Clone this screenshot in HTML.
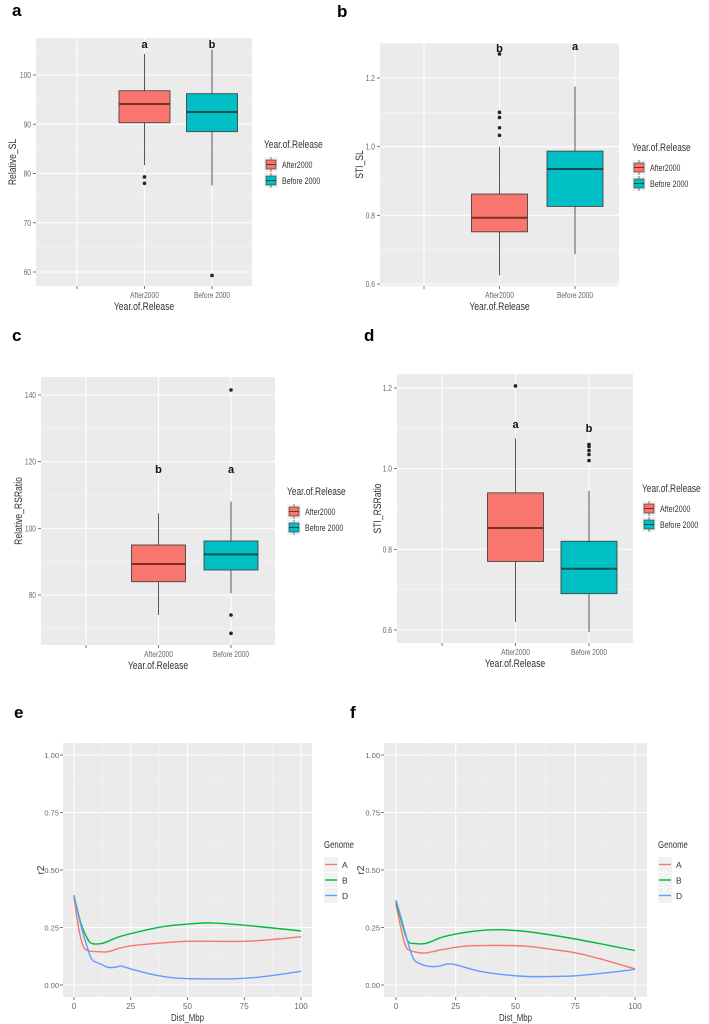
<!DOCTYPE html>
<html><head><meta charset="utf-8"><style>
html,body{margin:0;padding:0;background:#fff;}
svg{display:block;font-family:"Liberation Sans",sans-serif;}
</style></head><body>
<svg id="fig" width="709" height="1024" viewBox="0 0 709 1024" xmlns="http://www.w3.org/2000/svg"></svg>
<script>
// ---- Data ----
const categories = ["", "After2000", "Before 2000"];
const legendLabels = ["After2000", "Before 2000"];
// box stats: [whiskerLow, q1, median, q3, whiskerHigh]
const aAfter = [81.7, 90.3, 94.1, 96.8, 104.3];
const aBefore = [77.6, 88.5, 92.5, 96.2, 105.2];
const aOutAfter = [79.3, 78.0];
const aOutBefore = [59.3];
const aTicks = [60, 70, 80, 90, 100];
const aTickLabels = ["60", "70", "80", "90", "100"];
const aLetters = ["a", "b"];
const bAfter = [0.625, 0.752, 0.793, 0.862, 1.0];
const bBefore = [0.687, 0.826, 0.935, 0.987, 1.175];
const bOutAfter = [1.033, 1.055, 1.085, 1.1, 1.27];
const bOutBefore = [];
const bTicks = [0.6, 0.8, 1.0, 1.2];
const bTickLabels = ["0.6", "0.8", "1.0", "1.2"];
const bLetters = ["b", "a"];
const cAfter = [74, 84, 89.3, 95, 104.5];
const cBefore = [80.5, 87.5, 92.2, 96.2, 108];
const cOutAfter = [];
const cOutBefore = [141.5, 74, 68.5];
const cTicks = [80, 100, 120, 140];
const cTickLabels = ["80", "100", "120", "140"];
const cLetters = ["b", "a"];
const dAfter = [0.62, 0.77, 0.853, 0.94, 1.075];
const dBefore = [0.595, 0.69, 0.752, 0.82, 0.945];
const dOutAfter = [1.205];
const dOutBefore = [1.02, 1.035, 1.045, 1.055, 1.06];
const dTicks = [0.6, 0.8, 1.0, 1.2];
const dTickLabels = ["0.6", "0.8", "1.0", "1.2"];
const dLetters = ["a", "b"];

const genomes = ["A", "B", "D"];
const eA_x = [0,2,4,6,10,15,20,25,35,50,75,90,100];
const eA_y = [.38,.25,.17,.15,.145,.145,.16,.17,.18,.19,.19,.2,.21];
const eB_x = [0,3,6,8,12,15,20,30,40,50,60,75,100];
const eB_y = [.39,.27,.2,.18,.18,.19,.21,.235,.255,.265,.27,.26,.235];
const eD_x = [0,3,6,8,12,15,18,21,25,35,45,55,70,80,90,100];
const eD_y = [.39,.26,.16,.11,.09,.077,.077,.082,.07,.045,.03,.027,.027,.033,.045,.06];
const fA_x = [0,2,4,6,10,13,20,30,45,55,65,75,85,100];
const fA_y = [.35,.25,.17,.15,.14,.14,.155,.17,.172,.168,.155,.14,.115,.07];
const fB_x = [0,3,5,8,12,15,20,30,40,50,60,75,90,100];
const fB_y = [.36,.25,.19,.18,.18,.19,.21,.23,.24,.237,.225,.2,.17,.15];
const fD_x = [0,3,6,8,12,15,18,22,26,35,45,55,65,75,90,100];
const fD_y = [.37,.26,.15,.105,.085,.08,.082,.092,.085,.06,.045,.037,.037,.04,.055,.068];
const lineXTicks = [0, 25, 50, 75, 100];
const lineYTicks = [0, 0.25, 0.5, 0.75, 1.0];

// ---- helpers ----
const NS = "http://www.w3.org/2000/svg";
const svg = document.getElementById("fig");
function mk(tag, attrs, parent, text){
  const e = document.createElementNS(NS, tag);
  for (const k in attrs) e.setAttribute(k, attrs[k]);
  if (text !== undefined) e.textContent = text;
  (parent || svg).appendChild(e);
  return e;
}
function condense(el, f){
  const w = el.getComputedTextLength();
  if (w > 0){ el.setAttribute("textLength", (w*f).toFixed(1)); el.setAttribute("lengthAdjust", "spacingAndGlyphs"); }
}
function lin(d0, d1, r0, r1){ return v => r0 + (v - d0) * (r1 - r0) / (d1 - d0); }
const fillCols = ["#f8766d", "#00bfc4"];
const medCols = ["#7a2e29", "#0b4f51"];
const lineCols = {A: "#f8766d", B: "#00ba38", D: "#619cff"};
const CF = 0.78;

function panelLabel(t, x, y, name){
  const e = mk("text", {x:x, y:y, "font-size":17, "font-weight":"bold", fill:"#000"}, svg, t);
  
  
}

function boxPanel(cfg){
  const g = mk("g", {});
  
  
  const y = lin(cfg.d0, cfg.d1, cfg.r0, cfg.r1);
  const bg = mk("rect", {x:cfg.L, y:cfg.T, width:cfg.R-cfg.L, height:cfg.B-cfg.T, fill:"#ebebeb"}, g);
  
  
  const step = cfg.ticks[1] - cfg.ticks[0];
  for (let i = -1; i < cfg.ticks.length; i++){
    const v = cfg.ticks[0] + step*(i+0.5);
    const py = y(v);
    if (py > cfg.T && py < cfg.B) mk("line", {x1:cfg.L, x2:cfg.R, y1:py, y2:py, stroke:"#f7f7f7", "stroke-width":0.6}, g);
  }
  cfg.ticks.forEach((v, i) => {
    const py = y(v);
    const gl = mk("line", {x1:cfg.L, x2:cfg.R, y1:py, y2:py, stroke:"#fff", "stroke-width":1.1}, g);
    
    
    mk("line", {x1:cfg.L-3, x2:cfg.L, y1:py, y2:py, stroke:"#555", "stroke-width":0.8}, g);
    const t = mk("text", {x:cfg.L-5, y:py+3, "font-size":8.5, fill:"#666", "text-anchor":"end"}, g, cfg.tickLabels[i]);
    
    
    condense(t, CF);
  });
  const cx = i => cfg.c0 + i*cfg.cs;
  categories.forEach((c, i) => {
    const px = cx(i);
    mk("line", {x1:px, x2:px, y1:cfg.T, y2:cfg.B, stroke:"#fff", "stroke-width":1.1}, g);
    mk("line", {x1:px, x2:px, y1:cfg.B, y2:cfg.B+3, stroke:"#555", "stroke-width":0.8}, g);
    const t = mk("text", {x:px, y:cfg.B+12, "font-size":8.5, fill:"#666", "text-anchor":"middle"}, g, c);
    
    
    if (c) condense(t, CF);
  });
  const boxes = [cfg.after, cfg.before], outs = [cfg.outAfter, cfg.outBefore];
  boxes.forEach((s, k) => {
    const px = cx(k+1), w = cfg.bw;
    const bg2 = mk("g", {}, g);
    
    
    mk("line", {x1:px, x2:px, y1:y(s[0]), y2:y(s[1]), stroke:"#444", "stroke-width":0.9}, bg2);
    mk("line", {x1:px, x2:px, y1:y(s[3]), y2:y(s[4]), stroke:"#444", "stroke-width":0.9}, bg2);
    mk("rect", {x:px-w/2, y:y(s[3]), width:w, height:y(s[1])-y(s[3]), fill:fillCols[k], stroke:"#444", "stroke-width":0.9}, bg2);
    mk("line", {x1:px-w/2, x2:px+w/2, y1:y(s[2]), y2:y(s[2]), stroke:medCols[k], "stroke-width":2}, bg2);
    outs[k].forEach(v => {
      const o = mk("circle", {cx:px, cy:y(v), r:1.8, fill:"#222"}, bg2);
      
      
    });
    const lt = mk("text", {x:px, y:cfg.letterY[k], "font-size":11, "font-weight":"bold", fill:"#111", "text-anchor":"middle"}, g, cfg.letters[k]);
    
    
  });
  const xt = mk("text", {x:(cfg.L+cfg.R)/2, y:cfg.B+24, "font-size":11, fill:"#333", "text-anchor":"middle"}, g, "Year.of.Release");
  
  
  condense(xt, CF);
  const yt = mk("text", {x:0, y:0, "font-size":11, fill:"#333", "text-anchor":"middle", transform:`translate(${cfg.ytx},${(cfg.T+cfg.B)/2}) rotate(-90)`}, g, cfg.ytitle);
  
  
  condense(yt, CF);
  const lg = mk("g", {}, g);
  
  
  const ltitle = mk("text", {x:cfg.lx, y:cfg.ly, "font-size":11, fill:"#333"}, lg, "Year.of.Release");
  condense(ltitle, 0.76);
  legendLabels.forEach((l, k) => {
    const ky = cfg.ly + 9 + k*16;
    const e = mk("g", {}, lg);
    
    
    mk("rect", {x:cfg.lx, y:ky, width:14, height:15, fill:"#f2f2f2"}, e);
    mk("line", {x1:cfg.lx+7, x2:cfg.lx+7, y1:ky, y2:ky+15, stroke:"#444", "stroke-width":0.7}, e);
    mk("rect", {x:cfg.lx+2, y:ky+3, width:10, height:9, fill:fillCols[k], stroke:"#444", "stroke-width":0.7}, e);
    mk("line", {x1:cfg.lx+2, x2:cfg.lx+12, y1:ky+7.5, y2:ky+7.5, stroke:medCols[k], "stroke-width":1}, e);
    const tt = mk("text", {x:cfg.lx+18, y:ky+11, "font-size":9, fill:"#333"}, e, l);
    condense(tt, CF);
  });
}

function smoothPath(pts){
  let d = `M${pts[0][0]},${pts[0][1]}`;
  for (let i = 0; i < pts.length-1; i++){
    const p0 = pts[Math.max(0,i-1)], p1 = pts[i], p2 = pts[i+1], p3 = pts[Math.min(pts.length-1,i+2)];
    const c1x = p1[0] + (p2[0]-p0[0])/6, c1y = p1[1] + (p2[1]-p0[1])/6;
    const c2x = p2[0] - (p3[0]-p1[0])/6, c2y = p2[1] - (p3[1]-p1[1])/6;
    d += ` C${c1x},${c1y} ${c2x},${c2y} ${p2[0]},${p2[1]}`;
  }
  return d;
}

function linePanel(cfg){
  const g = mk("g", {});
  
  
  const x = lin(0, 100, cfg.x0, cfg.x100);
  const y = lin(0, 1, cfg.y0, cfg.y1);
  const bg = mk("rect", {x:cfg.L, y:cfg.T, width:cfg.R-cfg.L, height:cfg.B-cfg.T, fill:"#ebebeb"}, g);
  
  
  for (let i = 0; i < lineXTicks.length-1; i++){
    const px = x((lineXTicks[i]+lineXTicks[i+1])/2);
    mk("line", {x1:px, x2:px, y1:cfg.T, y2:cfg.B, stroke:"#f5f5f5", "stroke-width":0.6}, g);
  }
  for (let i = 0; i < lineYTicks.length-1; i++){
    const py = y((lineYTicks[i]+lineYTicks[i+1])/2);
    mk("line", {x1:cfg.L, x2:cfg.R, y1:py, y2:py, stroke:"#f5f5f5", "stroke-width":0.6}, g);
  }
  lineXTicks.forEach(v => {
    const px = x(v);
    mk("line", {x1:px, x2:px, y1:cfg.T, y2:cfg.B, stroke:"#fff", "stroke-width":1}, g);
    mk("line", {x1:px, x2:px, y1:cfg.B, y2:cfg.B+3, stroke:"#555", "stroke-width":0.8}, g);
    const t = mk("text", {x:px, y:cfg.B+12, "font-size":8, fill:"#666", "text-anchor":"middle"}, g, String(v));
    
    
  });
  lineYTicks.forEach(v => {
    const py = y(v);
    mk("line", {x1:cfg.L, x2:cfg.R, y1:py, y2:py, stroke:"#fff", "stroke-width":1}, g);
    mk("line", {x1:cfg.L-3, x2:cfg.L, y1:py, y2:py, stroke:"#555", "stroke-width":0.8}, g);
    const t = mk("text", {x:cfg.L-4, y:py+3, "font-size":7.5, fill:"#666", "text-anchor":"end"}, g, v.toFixed(2));
    
    
  });
  const series = [[cfg.A_x, cfg.A_y], [cfg.B_x, cfg.B_y], [cfg.D_x, cfg.D_y]];
  series.forEach((s, k) => {
    const pts = s[0].map((xv, i) => [x(xv), y(s[1][i])]);
    const p = mk("path", {d:smoothPath(pts), fill:"none", stroke:lineCols[genomes[k]], "stroke-width":1.4}, g);
    
    
  });
  const xt = mk("text", {x:(cfg.L+cfg.R)/2, y:cfg.B+24, "font-size":10, fill:"#333", "text-anchor":"middle"}, g, "Dist_Mbp");
  
  
  condense(xt, CF);
  const yt = mk("text", {x:0, y:0, "font-size":10, fill:"#333", "text-anchor":"middle", transform:`translate(${cfg.ytx},${y(0.5)}) rotate(-90)`}, g, "r2");
  
  
  const lg = mk("g", {}, g);
  
  
  const lt = mk("text", {x:cfg.lx, y:cfg.ly, "font-size":10, fill:"#333"}, lg, "Genome");
  condense(lt, CF);
  genomes.forEach((gn, k) => {
    const ky = cfg.ly + 9 + k*15.5;
    const e = mk("g", {}, lg);
    
    
    mk("rect", {x:cfg.lx, y:ky, width:14, height:15, fill:"#f2f2f2"}, e);
    mk("line", {x1:cfg.lx+1, x2:cfg.lx+13, y1:ky+7.5, y2:ky+7.5, stroke:lineCols[gn], "stroke-width":1.4}, e);
    mk("text", {x:cfg.lx+18, y:ky+11, "font-size":8.5, fill:"#333"}, e, gn);
  });
}

panelLabel("a", 12, 16, "panel-label-a");
panelLabel("b", 337, 17, "panel-label-b");
panelLabel("c", 12, 341, "panel-label-c");
panelLabel("d", 364, 341, "panel-label-d");
panelLabel("e", 14, 718, "panel-label-e");
panelLabel("f", 350, 718, "panel-label-f");

boxPanel({name:"panel-a-relative-sl", L:36, R:252, T:38, B:286, d0:100, d1:60, r0:75, r1:272,
  ticks:aTicks, tickLabels:aTickLabels, c0:77, cs:67.5, bw:51, after:aAfter, before:aBefore, outAfter:aOutAfter, outBefore:aOutBefore,
  letters:aLetters, letterY:[48,48], ytitle:"Relative_SL", ytx:16, lx:264, ly:148});
boxPanel({name:"panel-b-sti-sl", L:380, R:619, T:43, B:286, d0:1.2, d1:0.6, r0:78, r1:284,
  ticks:bTicks, tickLabels:bTickLabels, c0:424, cs:75.5, bw:56, after:bAfter, before:bBefore, outAfter:bOutAfter, outBefore:bOutBefore,
  letters:bLetters, letterY:[52,50], ytitle:"STI_SL", ytx:363, lx:632, ly:151});
boxPanel({name:"panel-c-relative-rsratio", L:41, R:275, T:377, B:645, d0:140, d1:80, r0:395, r1:595,
  ticks:cTicks, tickLabels:cTickLabels, c0:86, cs:72.5, bw:54, after:cAfter, before:cBefore, outAfter:cOutAfter, outBefore:cOutBefore,
  letters:cLetters, letterY:[473,473], ytitle:"Relative_RSRatio", ytx:22, lx:287, ly:495});
boxPanel({name:"panel-d-sti-rsratio", L:397, R:633, T:374, B:643, d0:1.2, d1:0.6, r0:388, r1:630,
  ticks:dTicks, tickLabels:dTickLabels, c0:442, cs:73.5, bw:56, after:dAfter, before:dBefore, outAfter:dOutAfter, outBefore:dOutBefore,
  letters:dLetters, letterY:[428,432], ytitle:"STI_RSRatio", ytx:381, lx:642, ly:492});

linePanel({name:"panel-e-ld-decay", L:63, R:312, T:743, B:997, x0:74, x100:301, y0:985, y1:755,
  A_x:eA_x, A_y:eA_y, B_x:eB_x, B_y:eB_y, D_x:eD_x, D_y:eD_y, ytx:44, lx:324, ly:848});
linePanel({name:"panel-f-ld-decay", L:384, R:647, T:743, B:997, x0:396, x100:635, y0:985, y1:755,
  A_x:fA_x, A_y:fA_y, B_x:fB_x, B_y:fB_y, D_x:fD_x, D_y:fD_y, ytx:364, lx:658, ly:848});
</script>
</body></html>
